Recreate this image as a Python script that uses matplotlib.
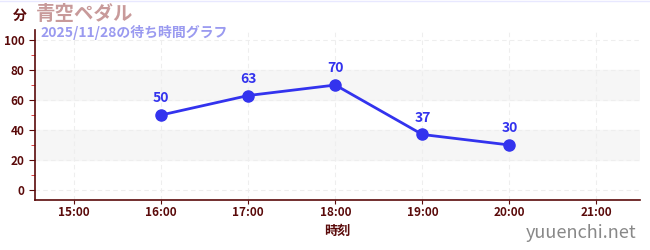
import matplotlib.pyplot as plt
from matplotlib.ticker import MultipleLocator

plt.rcParams['font.family'] = ['Noto Sans CJK JP', 'DejaVu Sans']

# data
hours = [16, 17, 18, 19, 20]
waits = [50, 63, 70, 37, 30]
tick_hours = [15, 16, 17, 18, 19, 20, 21]
tick_labels = ["15:00", "16:00", "17:00", "18:00", "19:00", "20:00", "21:00"]

dark = "#5a0a0a"
blue = "#3333ee"

fig = plt.figure(figsize=(6.5, 2.5), dpi=100)
ax = fig.add_axes([35 / 650, 50 / 250, 605 / 650, 170 / 250])

ax.set_xlim(14.55, 21.5)
ax.set_ylim(-6.7, 106.7)

# background bands
for lo in (20, 60):
    ax.axhspan(lo, lo + 20, color="#f6f6f6", zorder=0)

ax.grid(True, which="major", color="#eeeeee", linestyle=(0, (4, 3)), linewidth=0.8)

ax.plot(hours, waits, color=blue, linewidth=2, marker="o", markersize=8, zorder=3)
for h, w in zip(hours, waits):
    ax.annotate(str(w), (h, w), xytext=(0, 7), textcoords="offset points",
                ha="center", va="bottom", color=blue, fontsize=10, fontweight="bold")

ax.set_xticks(tick_hours)
ax.set_xticklabels(tick_labels)
ax.yaxis.set_major_locator(MultipleLocator(20))
ax.yaxis.set_minor_locator(MultipleLocator(10))
ax.tick_params(axis="both", colors=dark, labelsize=8.5, length=4)
ax.tick_params(axis="x", length=3, pad=1)
ax.tick_params(axis="y", which="minor", color="#dd2222", length=3)
for lbl in ax.get_xticklabels() + ax.get_yticklabels():
    lbl.set_fontweight("bold")
    lbl.set_color(dark)

for s in ("top", "right"):
    ax.spines[s].set_visible(False)
for s in ("left", "bottom"):
    ax.spines[s].set_color(dark)
    ax.spines[s].set_linewidth(1.2)

ax.set_xlabel("時刻", color=dark, fontsize=9.5, fontweight="bold", labelpad=4)

fig.text(20 / 650, 1 - 16 / 250, "分", color=dark, fontsize=10, fontweight="bold", ha="center", va="center")
fig.text(36 / 650, 1 - 14 / 250, "青空ペダル", color="#c89a9a", fontsize=14, fontweight="bold", ha="left", va="center")
fig.text(40 / 650, 1 - 32 / 250, "2025/11/28の待ち時間グラフ", color="#9a9af0", fontsize=10, fontweight="bold", ha="left", va="center")
fig.text(636 / 650, 1 - 233 / 250, "yuuenchi.net", color="#888888", fontsize=13, ha="right", va="center")

fig.add_artist(plt.Line2D([0, 1], [1 - 1 / 250, 1 - 1 / 250], color="#e8e8ff", linewidth=1))

fig.savefig("out.png", dpi=100)
